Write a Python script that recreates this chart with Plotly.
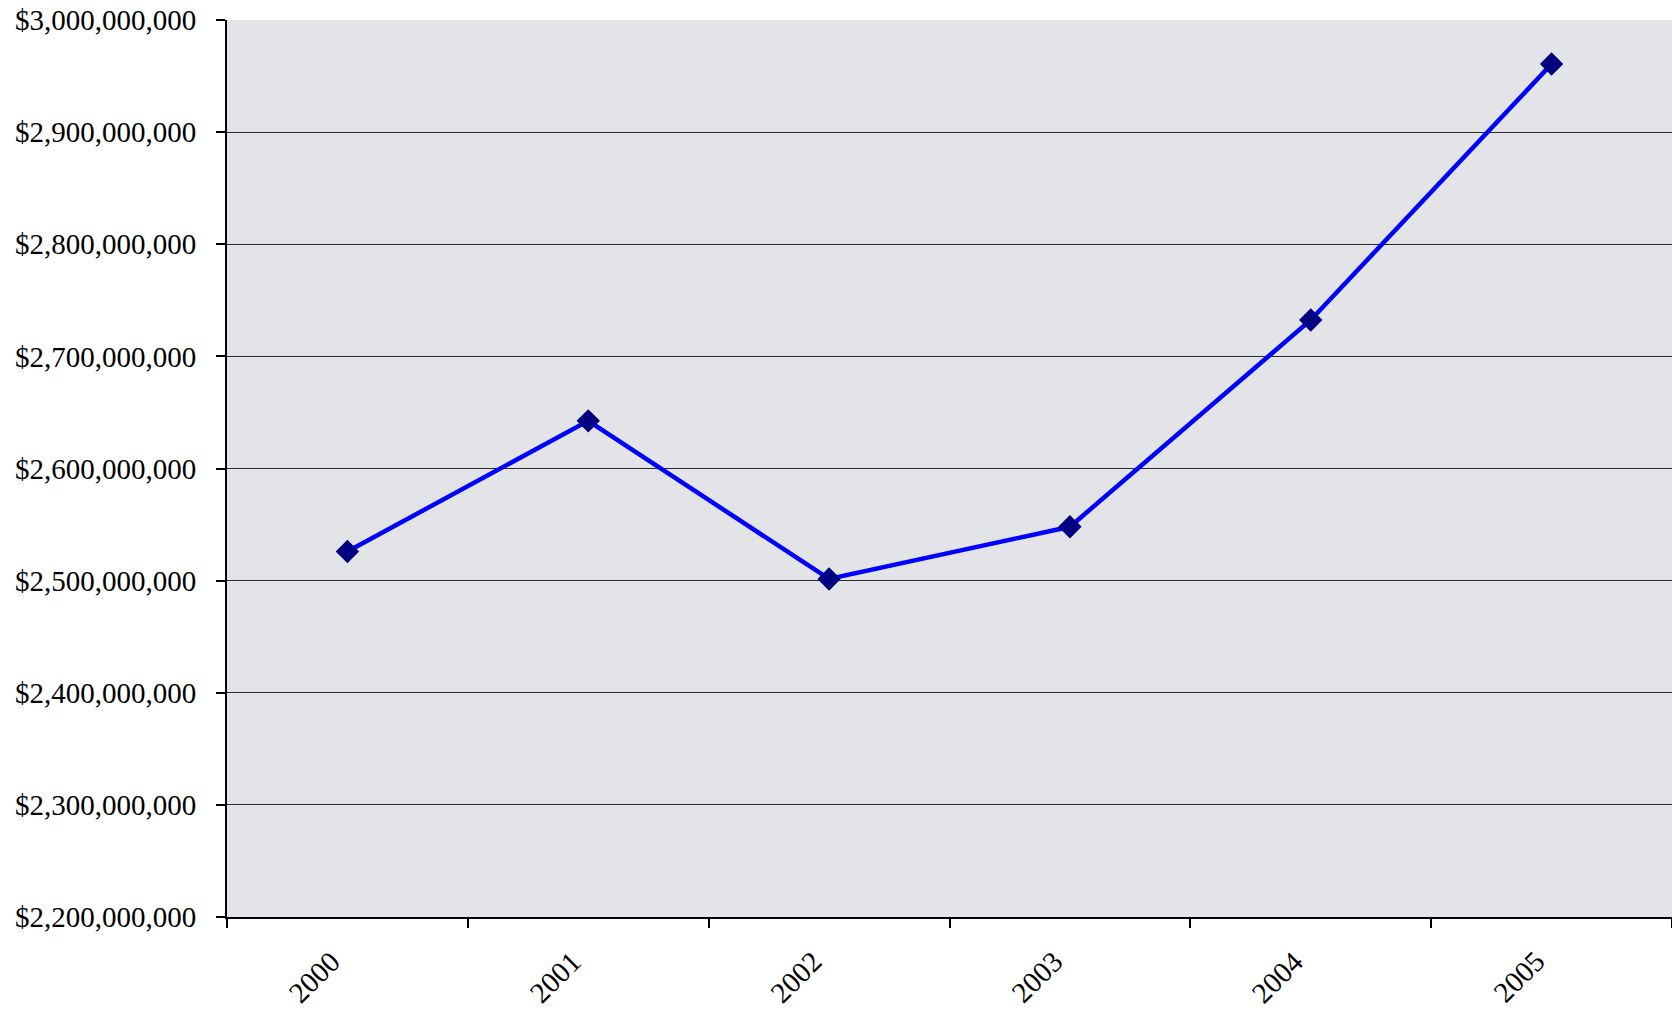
import plotly.graph_objects as go

years = ["2000", "2001", "2002", "2003", "2004", "2005"]
values = [2526000000, 2642500000, 2501500000, 2548000000, 2732500000, 2960700000]
y_ticks = [2200000000, 2300000000, 2400000000, 2500000000, 2600000000,
           2700000000, 2800000000, 2900000000, 3000000000]
y_tick_labels = ["${:,}".format(v) for v in y_ticks]

font_family = "Liberation Serif, Times New Roman, serif"

fig = go.Figure()
fig.add_trace(go.Scatter(
    x=years, y=values, mode="lines+markers",
    line=dict(color="#0000FF", width=4.5),
    marker=dict(symbol="diamond", size=18, color="#000080",
                line=dict(width=0)),
    showlegend=False,
))

for i, yr in enumerate(years):
    fig.add_annotation(
        x=i, xref="x", y=0, yref="paper",
        text=yr, showarrow=False, textangle=-45,
        xanchor="center", yanchor="middle",
        xshift=-33, yshift=-60,
        font=dict(family=font_family, size=29, color="black"),
    )

fig.update_layout(
    width=1672, height=1011,
    margin=dict(l=227, r=0, t=20, b=94),
    paper_bgcolor="white",
    plot_bgcolor="#e3e4e8",
    font=dict(family=font_family, size=29, color="black"),
    xaxis=dict(
        type="category", range=[-0.5, 5.5],
        showgrid=False, showline=True, linecolor="black", linewidth=2,
        ticks="outside", ticklen=9, tickwidth=1.5, tickcolor="black",
        tickson="boundaries", showticklabels=False,
    ),
    yaxis=dict(
        range=[2200000000, 3000000000], tickmode="array",
        tickvals=y_ticks, ticktext=y_tick_labels,
        showgrid=True, gridcolor="#2a2a2a", gridwidth=1,
        showline=True, linecolor="black", linewidth=2,
        ticks="outside", ticklen=9, tickwidth=1.5, tickcolor="black",
        ticklabelstandoff=14, zeroline=False,
        tickfont=dict(family=font_family, size=29),
    ),
)

fig.write_html("out.html")
